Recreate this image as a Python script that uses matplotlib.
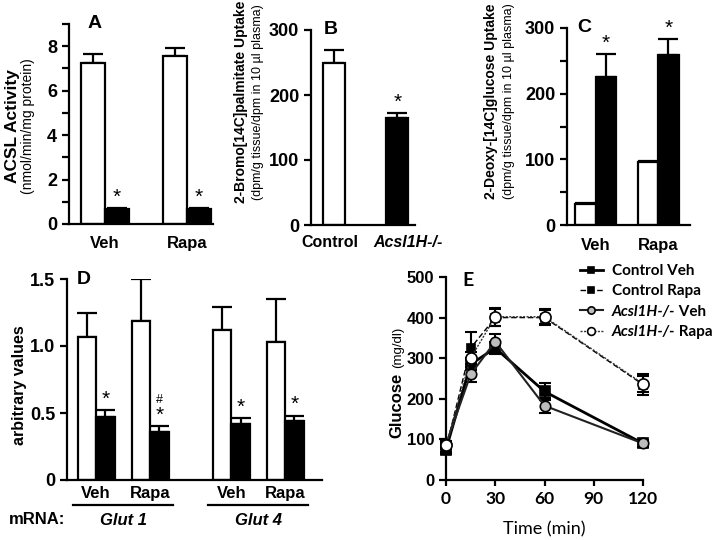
"""Five-panel figure: ACSL activity, tracer uptake, Glut mRNA and glucose tolerance."""

import matplotlib

matplotlib.use("Agg")
import matplotlib.pyplot as plt  # noqa: E402
import numpy as np  # noqa: E402
from matplotlib.lines import Line2D  # noqa: E402
from matplotlib.transforms import blended_transform_factory  # noqa: E402

plt.rcParams["font.family"] = ["Liberation Sans", "DejaVu Sans"]
plt.rcParams["font.weight"] = "bold"

# ---- data -------------------------------------------------------------
# A: ACSL activity (nmol/min/mg protein)
acsl_groups = ["Veh", "Rapa"]
acsl_control = [7.25, 7.55]
acsl_control_err = [0.4, 0.35]
acsl_ko = [0.68, 0.68]
acsl_ko_err = [0.03, 0.03]

# B: 2-bromo[14C]palmitate uptake
palm_labels = ["Control", "Acsl1H-/-"]
palm_values = [250, 164]
palm_err = [20, 8]

# C: 2-deoxy-[14C]glucose uptake
gluc_groups = ["Veh", "Rapa"]
gluc_control = [32, 96]
gluc_control_err = [2, 1]
gluc_ko = [225, 259]
gluc_ko_err = [35, 24]

# D: Glut mRNA (arbitrary values)
glut_groups = ["Veh", "Rapa", "Veh", "Rapa"]
glut_genes = ["Glut 1", "Glut 4"]
glut_control = [1.07, 1.19, 1.12, 1.03]
glut_control_err = [0.18, 0.31, 0.17, 0.32]
glut_ko = [0.47, 0.36, 0.42, 0.44]
glut_ko_err = [0.05, 0.04, 0.04, 0.04]

# E: glucose tolerance test (mg/dl)
gtt_time = [0, 15, 30, 60, 120]
ctrl_veh = [75, 285, 325, 218, 90]
ctrl_veh_err = [10, 15, 15, 20, 8]
ctrl_rapa = [78, 325, 400, 400, 235]
ctrl_rapa_err = [10, 40, 20, 18, 25]
ko_veh = [88, 260, 341, 183, 90]
ko_veh_err = [8, 18, 18, 18, 8]
ko_rapa = [85, 300, 402, 402, 237]
ko_rapa_err = [8, 15, 22, 18, 20]

W, H = 714, 540
LW = 1.6
fig = plt.figure(figsize=(W / 100, H / 100), dpi=100)


def axes_px(left, top, right, bottom):
    return fig.add_axes([left / W, 1 - bottom / H, (right - left) / W, (bottom - top) / H])


def style(ax, size=13, xpad=5):
    for side in ("top", "right"):
        ax.spines[side].set_visible(False)
    for side in ("left", "bottom"):
        ax.spines[side].set_linewidth(LW)
    ax.tick_params(axis="y", which="both", direction="out", width=LW, labelsize=size)
    ax.tick_params(axis="y", which="major", length=5)
    ax.tick_params(axis="y", which="minor", length=5)
    ax.tick_params(axis="x", length=0, pad=xpad, labelsize=12)


def bars(ax, x, vals, errs, color):
    ax.bar(x, vals, width=1.0, color=color, edgecolor="black", linewidth=LW, zorder=2)
    ax.errorbar(x, vals, yerr=[np.zeros(len(vals)), errs], fmt="none", ecolor="black",
                elinewidth=LW, capsize=7, capthick=LW, zorder=1)


def stars(ax, x, vals, errs, text="*", offset=1):
    for xi, v, e in zip(x, vals, errs):
        ax.annotate(text, (xi, v + e), xytext=(0, offset), textcoords="offset points",
                    ha="center", va="bottom", fontsize=15, fontweight="normal")


def ylabel(x, y, text, size, weight="bold"):
    fig.text(x / W, 1 - y / H, text, rotation=90, ha="center", va="center",
             fontsize=size, fontweight=weight)


# ---- A ----------------------------------------------------------------
ax = axes_px(69, 24, 213, 224)
style(ax, xpad=9)
centers = np.array([1.5, 4.92])
bars(ax, centers - 0.5, acsl_control, acsl_control_err, "white")
bars(ax, centers + 0.5, acsl_ko, acsl_ko_err, "black")
stars(ax, centers + 0.5, acsl_ko, acsl_ko_err)
ax.set_xlim(0, 6)
ax.set_ylim(0, 9)
ax.set_yticks([0, 2, 4, 6, 8])
ax.set_yticks([1, 3, 5, 7, 9], minor=True)
ax.set_xticks(centers, acsl_groups)
ax.text(1.05, 9, "A", ha="center", va="center", fontsize=14)
ylabel(13, 126, "ACSL Activity", 12.5)
ylabel(28, 126, "(nmol/min/mg protein)", 10, "normal")

# ---- B ----------------------------------------------------------------
ax = axes_px(311, 30, 415, 225)
style(ax)
xb = np.array([1.05, 3.9])
ax.bar(xb, palm_values, width=1.0, color=["white", "black"], edgecolor="black",
       linewidth=LW, zorder=2)
ax.errorbar(xb, palm_values, yerr=[[0, 0], palm_err], fmt="none", ecolor="black",
            elinewidth=LW, capsize=7, capthick=LW, zorder=1)
stars(ax, xb[1:], palm_values[1:], palm_err[1:])
ax.set_xlim(0, 4.7)
ax.set_ylim(0, 300)
ax.set_yticks([0, 100, 200, 300])
ax.set_xticks([])
trans = blended_transform_factory(ax.transData, ax.transAxes)
ax.text(xb[0] - 0.2, -0.088, palm_labels[0], transform=trans, ha="center", va="center",
        fontsize=11.5)
ax.text(xb[1] + 0.5, -0.088, palm_labels[1], transform=trans, ha="center", va="center",
        fontsize=11.5, style="italic")
ax.text(0.9, 300, "B", ha="center", va="center", fontsize=14)
ylabel(241, 102, "2-Bromo[14C]palmitate Uptake", 10)
ylabel(258, 102, "(dpm/g tissue/dpm in 10 \u00b5l plasma)", 9, "normal")

# ---- C ----------------------------------------------------------------
ax = axes_px(567, 28, 690, 225)
style(ax, xpad=9)
centers = np.array([1.4, 4.45])
bars(ax, centers - 0.5, gluc_control, gluc_control_err, "white")
bars(ax, centers + 0.5, gluc_ko, gluc_ko_err, "black")
stars(ax, centers + 0.5, gluc_ko, gluc_ko_err)
ax.set_xlim(0, 6)
ax.set_ylim(0, 300)
ax.set_yticks([0, 100, 200, 300])
ax.set_yticks([50, 150, 250], minor=True)
ax.set_xticks(centers, gluc_groups)
ax.text(0.85, 300, "C", ha="center", va="center", fontsize=14)
ylabel(491, 101, "2-Deoxy-[14C]glucose Uptake", 10)
ylabel(509, 101, "(dpm/g tissue/dpm in 10 \u00b5l plasma)", 9, "normal")

# ---- D ----------------------------------------------------------------
ax = axes_px(67, 279, 322, 480)
style(ax, xpad=4)
centers = np.array([1.58, 4.5, 8.89, 11.8])
bars(ax, centers - 0.5, glut_control, glut_control_err, "white")
bars(ax, centers + 0.5, glut_ko, glut_ko_err, "black")
stars(ax, centers + 0.5, glut_ko, glut_ko_err)
ax.annotate("#", (centers[1] + 0.5, glut_ko[1] + glut_ko_err[1]), xytext=(0, 15),
            textcoords="offset points", ha="center", va="bottom", fontsize=9,
            fontweight="normal")
ax.set_xlim(0, 13.8)
ax.set_ylim(0, 1.5)
ax.set_yticks([0, 0.5, 1.0, 1.5], ["0", "0.5", "1.0", "1.5"])
ax.set_xticks(centers, glut_groups)
ax.text(0.9, 1.5, "D", ha="center", va="center", fontsize=14)
trans = blended_transform_factory(ax.transData, ax.transAxes)
for i, gene in enumerate(glut_genes):
    lo, hi = centers[2 * i] - 1.25, centers[2 * i + 1] + 1.25
    ax.add_line(Line2D([lo, hi], [-0.124, -0.124], color="black", lw=LW,
                       transform=trans, clip_on=False))
    ax.text((lo + hi) / 2, -0.2, gene, transform=trans, ha="center", va="center",
            fontsize=12, style="italic")
fig.text(9 / W, 1 - 520 / H, "mRNA:", ha="left", va="center", fontsize=12)
ylabel(20, 385, "arbitrary values", 11.5)

# ---- E ----------------------------------------------------------------
ax = axes_px(446, 277, 643, 480)
style(ax, size=12)
ax.tick_params(axis="x", length=4, width=LW, direction="out", pad=4)
series = [
    (ctrl_veh, ctrl_veh_err, "s", "black", "black", "-", 2.0, 6.5, "Control Veh"),
    (ctrl_rapa, ctrl_rapa_err, "s", "black", "black", (0, (4, 2)), 1.0, 6.0, "Control Rapa"),
    (ko_veh, ko_veh_err, "o", "#bdbdbd", "#222222", "-", 1.5, 7.5, "Acsl1H-/-"),
    (ko_rapa, ko_rapa_err, "o", "white", "#333333", (0, (1.5, 1)), 1.0, 8.0, "Acsl1H-/-"),
]
handles = []
for i, (vals, errs, mk, face, line_c, ls, lw, ms, _) in enumerate(series):
    ax.errorbar(gtt_time, vals, yerr=errs, fmt="none", ecolor="black", elinewidth=1.5,
                capsize=4, capthick=1.5, zorder=2 + i, clip_on=False)
    (ln,) = ax.plot(gtt_time, vals, marker=mk, markerfacecolor=face,
                    markeredgecolor="black", markeredgewidth=1.2, markersize=ms,
                    color=line_c, linestyle=ls, linewidth=lw, zorder=3 + i,
                    clip_on=False)
    handles.append(ln)
ax.set_xlim(0, 120)
ax.set_ylim(0, 500)
ax.set_yticks(np.arange(0, 501, 100))
ax.set_xticks([0, 30, 60, 90, 120])
for lab in ax.get_xticklabels():
    lab.set_family("Lato")
    lab.set_fontsize(12.5)
ax.text(0.11, 0.985, "E", transform=ax.transAxes, ha="center", va="center",
        fontsize=14, family="Lato")
ax.set_xlabel("Time (min)", family="Lato", fontsize=13, labelpad=10)
leg = ax.legend(handles, [s[-1] for s in series], loc="upper left",
                bbox_to_anchor=(580 / W, 1 - 264 / H), bbox_transform=fig.transFigure,
                frameon=False, handlelength=1.5, handletextpad=0.6, labelspacing=0.42,
                borderpad=0, borderaxespad=0, markerscale=0.7,
                prop={"family": "Lato", "weight": "bold", "size": 11})
leg.set_zorder(5)
for txt, suffix in zip(leg.get_texts()[2:], [" Veh", " Rapa"]):
    txt.set_style("italic")
    ax.annotate(suffix, xy=(1, 0), xycoords=txt, ha="left", va="bottom",
                family="Lato", fontsize=11, zorder=10, annotation_clip=False)

glucose = fig.text(401 / W, 1 - 438 / H, "Glucose", rotation=90, rotation_mode="anchor",
                   ha="left", va="baseline", fontsize=12)
renderer = fig.canvas.get_renderer()
top_px = H - glucose.get_window_extent(renderer).y1
fig.text(401 / W, 1 - (top_px - 5) / H, "(mg/dl)", rotation=90, rotation_mode="anchor",
         ha="left", va="baseline", fontsize=9.5, fontweight="normal")

fig.savefig("out.png", dpi=100)
